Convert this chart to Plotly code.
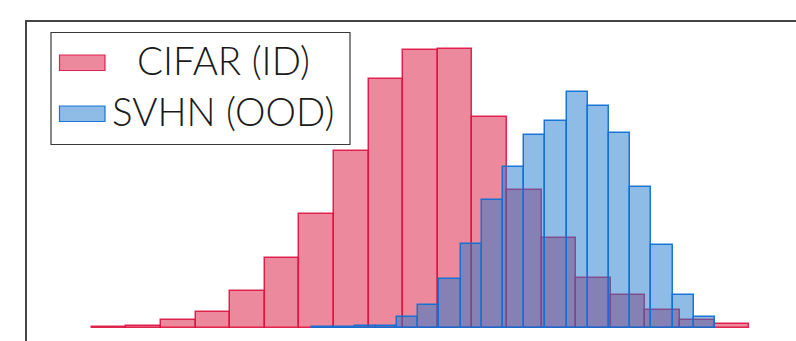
import plotly.graph_objects as go

# ---- data (histogram bin counts) ----
cifar_counts = [1, 2.3, 8, 16, 37, 70, 113.6, 176.6, 249, 278, 279, 210.6,
                138, 90, 50.3, 32.6, 17.6, 8.3, 4]
cifar_bin_start = 1.87
cifar_bin_width = 1.0

svhn_counts = [0.7, 0.8, 2, 2.3, 11, 23, 49, 84.3, 127.6, 161, 193, 207,
               236, 222, 195.3, 141, 83, 33, 11]
svhn_bin_start = 8.245
svhn_bin_width = 0.6127

labels = ["CIFAR (ID)", "SVHN (OOD)"]

# ---- styles ----
W, H = 796, 341
ML, MT = 27, 22
cifar_fill = "rgba(220,20,60,0.5)"
cifar_edge = "rgba(222,18,64,0.9)"
svhn_fill = "rgba(30,122,206,0.5)"
svhn_edge = "rgba(16,112,212,0.95)"

def centers(start, width, n):
    return [start + width * (i + 0.5) for i in range(n)]

fig = go.Figure()
fig.add_trace(go.Bar(
    x=centers(cifar_bin_start, cifar_bin_width, len(cifar_counts)),
    y=cifar_counts, width=cifar_bin_width, name=labels[0],
    marker=dict(color=cifar_fill, line=dict(color=cifar_edge, width=1.5)),
    showlegend=False))
fig.add_trace(go.Bar(
    x=centers(svhn_bin_start, svhn_bin_width, len(svhn_counts)),
    y=svhn_counts, width=svhn_bin_width, name=labels[1],
    marker=dict(color=svhn_fill, line=dict(color=svhn_edge, width=1.5)),
    showlegend=False))

pw, ph = W - ML, H - MT

def px(xp):
    return (xp - ML) / pw

def py(yp):
    return 1 - (yp - MT) / ph

# custom legend
shapes = [
    dict(type="rect", xref="paper", yref="paper", x0=px(51), x1=px(350),
         y0=py(32.5), y1=py(144.5), line=dict(color="#3a3a3a", width=1.2),
         fillcolor="white", layer="above"),
    dict(type="rect", xref="paper", yref="paper", x0=px(59.5), x1=px(105),
         y0=py(55), y1=py(70.5), line=dict(color=cifar_edge, width=1.2),
         fillcolor=cifar_fill, layer="above"),
    dict(type="rect", xref="paper", yref="paper", x0=px(59.5), x1=px(105),
         y0=py(106), y1=py(121.5), line=dict(color=svhn_edge, width=1.2),
         fillcolor=svhn_fill, layer="above"),
]
font = dict(family="Lato Light, Lato", size=38.5, color="#1a1a1a", weight=300)
annotations = [
    dict(text=labels[0], xref="paper", yref="paper", x=px(134.5), y=py(60),
         xanchor="left", yanchor="middle", showarrow=False, font=font),
    dict(text=labels[1], xref="paper", yref="paper", x=px(109.5), y=py(110.5),
         xanchor="left", yanchor="middle", showarrow=False, font=font),
]

fig.update_layout(
    width=W, height=H, barmode="overlay", bargap=0,
    margin=dict(l=ML, r=0, t=MT, b=0, pad=0),
    plot_bgcolor="white", paper_bgcolor="white",
    shapes=shapes, annotations=annotations,
    xaxis=dict(range=[0, pw / 34.6], side="top", showline=True,
               linecolor="#444", linewidth=1.5, showgrid=False,
               zeroline=False, showticklabels=False, ticks=""),
    yaxis=dict(range=[-13, ph - 13], showline=True, linecolor="#444",
               linewidth=1.5, showgrid=False, zeroline=False,
               showticklabels=False, ticks=""),
)
fig.write_html(
    "out.html",
    config={"displayModeBar": False},
    post_script="document.body.style.margin='0';document.body.style.overflow='hidden';",
)
